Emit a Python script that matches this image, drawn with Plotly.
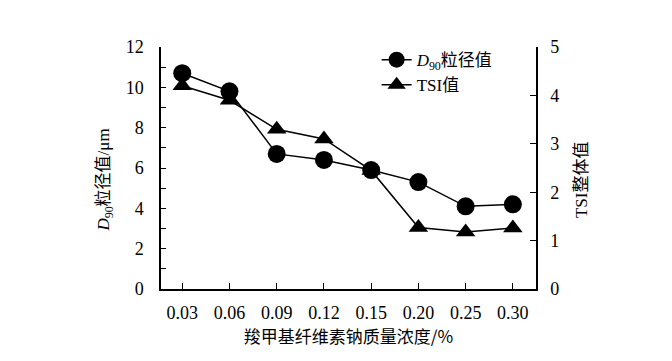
import plotly.graph_objects as go

categories = ["0.03", "0.06", "0.09", "0.12", "0.15", "0.20", "0.25", "0.30"]
d90_values = [10.7, 9.8, 6.7, 6.4, 5.9, 5.3, 4.1, 4.2]
tsi_values = [4.2, 3.9, 3.3, 3.1, 2.45, 1.27, 1.18, 1.26]
left_ticks = [0, 2, 4, 6, 8, 10, 12]
right_ticks = [0, 1, 2, 3, 4, 5]

FONT = "Liberation Serif, Times New Roman, Noto Sans CJK SC, serif"
fs = 17
tfs = 18

fig = go.Figure()
fig.add_trace(go.Scatter(
    x=categories, y=d90_values, name="<i>D</i><sub>90</sub>粒径值",
    mode="lines+markers", line=dict(color="black", width=1.5),
    marker=dict(symbol="circle", size=18, color="black"),
    yaxis="y"))
fig.add_trace(go.Scatter(
    x=categories, y=tsi_values, name="TSI值",
    mode="lines+markers", line=dict(color="black", width=1.5),
    marker=dict(symbol="triangle-up", size=17, color="black"),
    yaxis="y2"))

fig.update_layout(
    width=672, height=361,
    margin=dict(l=153, r=144, t=39, b=80),
    paper_bgcolor="white", plot_bgcolor="white",
    font=dict(family=FONT, size=fs, color="black"),
    showlegend=True,
    legend=dict(x=0.575, y=1.02, xanchor="left", yanchor="top",
                bgcolor="rgba(0,0,0,0)", font=dict(size=fs), tracegroupgap=0),
    xaxis=dict(type="category", range=[-0.45, 7.49], showline=True,
               linecolor="black", linewidth=1.5, ticks="inside", ticklen=6,
               tickcolor="black", showgrid=False, zeroline=False,
               ticklabelstandoff=7, tickfont=dict(size=tfs),
               title=dict(text="羧甲基纤维素钠质量浓度/%", font=dict(size=fs,
                          family="Noto Sans CJK SC, Liberation Serif"), standoff=8)),
    yaxis=dict(range=[0, 12], tickvals=left_ticks, showline=True,
               linecolor="black", linewidth=1.5, ticks="inside", ticklen=5,
               tickcolor="black", showgrid=False, zeroline=False,
               ticklabelstandoff=12, tickfont=dict(size=tfs),
               minor=dict(dtick=1, ticks="inside", ticklen=5, tickcolor="black")),
    yaxis2=dict(range=[0, 5], tickvals=right_ticks, overlaying="y", side="right",
                showline=True, linecolor="black", linewidth=1.5, ticks="inside",
                ticklen=6, tickcolor="black", showgrid=False, zeroline=False,
                ticklabelstandoff=9, tickfont=dict(size=tfs)),
    annotations=[
        dict(text="<i>D</i><sub>90</sub>粒径值/μm", xref="paper", yref="paper",
             x=-0.148, y=0.45, textangle=-90, showarrow=False,
             xanchor="center", yanchor="middle", font=dict(size=fs)),
        dict(text="TSI整体值", xref="paper", yref="paper",
             x=1.12, y=0.45, textangle=-90, showarrow=False,
             xanchor="center", yanchor="middle", font=dict(size=fs)),
    ],
)

fig.write_html("out.html")
